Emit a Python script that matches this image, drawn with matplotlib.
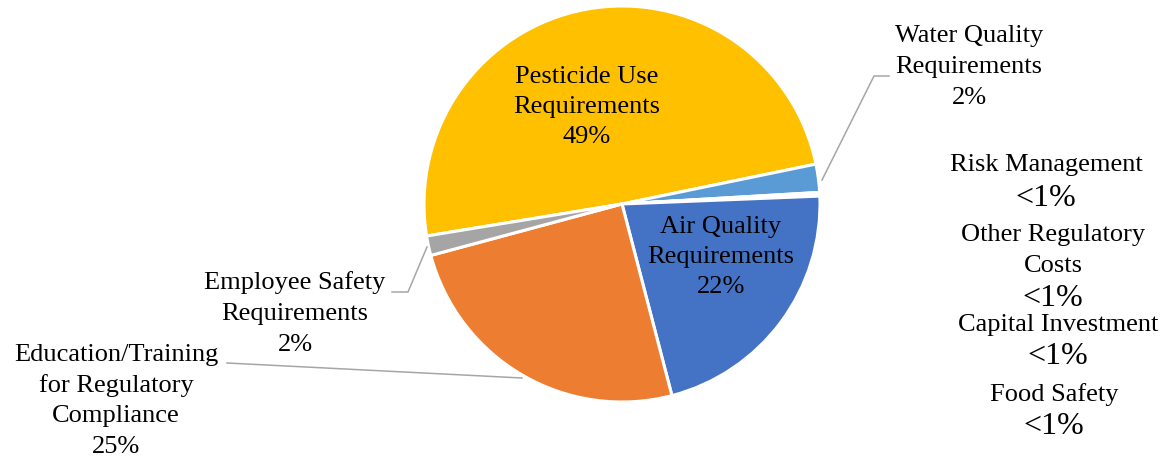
import matplotlib.pyplot as plt

plt.rcParams['font.family'] = ['Liberation Serif', 'DejaVu Serif']

# Share of regulatory cost by category (percent)
categories = ['Pesticide Use Requirements', 'Water Quality Requirements',
              'Risk Management', 'Other Regulatory Costs', 'Capital Investment',
              'Food Safety', 'Air Quality Requirements',
              'Education/Training for Regulatory Compliance',
              'Employee Safety Requirements']
shares = [49.4, 2.3, 0.1, 0.1, 0.05, 0.05, 21.6, 24.9, 1.6]
colors = ['#FFC000', '#5B9BD5', '#264478', '#9E480E', '#636363',
          '#997300', '#4472C4', '#ED7D31', '#A5A5A5']

# label lines for each slice (the value line is added from the shares)
label_lines = {
    'Pesticide Use Requirements': ['Pesticide Use', 'Requirements'],
    'Water Quality Requirements': ['Water Quality', 'Requirements'],
    'Risk Management': ['Risk Management'],
    'Other Regulatory Costs': ['Other Regulatory', 'Costs'],
    'Capital Investment': ['Capital Investment'],
    'Food Safety': ['Food Safety'],
    'Air Quality Requirements': ['Air Quality', 'Requirements'],
    'Education/Training for Regulatory Compliance':
        ['Education/Training', 'for Regulatory', 'Compliance'],
    'Employee Safety Requirements': ['Employee Safety', 'Requirements'],
}

W, H = 1165, 459
fig = plt.figure(figsize=(W / 100, H / 100), dpi=100)
ax = fig.add_axes([0, 0, 1, 1])

cx, cy, r = 622, H - 204, 198
ax.pie(shares, colors=colors, startangle=189.3, counterclock=False,
       center=(cx, cy), radius=r,
       wedgeprops=dict(edgecolor='white', linewidth=2.2))

ax.set_xlim(0, W)
ax.set_ylim(0, H)
ax.set_aspect('equal')
ax.axis('off')


def pct_text(v):
    return '<1%' if v < 1 else f'{round(v)}%'


# label placement: x centre and y of each line, measured from the top
label_pos = {
    'Pesticide Use Requirements': (587, [77, 107, 137]),
    'Water Quality Requirements': (969, [36, 67, 98]),
    'Risk Management': (1046, [165, 198]),
    'Other Regulatory Costs': (1053, [235, 266, 298]),
    'Capital Investment': (1058, [325, 357]),
    'Food Safety': (1054, [395, 427]),
    'Air Quality Requirements': (721, [227, 257, 287]),
    'Education/Training for Regulatory Compliance': (116, [355, 386, 416, 447]),
    'Employee Safety Requirements': (295, [283, 314, 345]),
}

for name, v in zip(categories, shares):
    x, ys = label_pos[name]
    lines = label_lines[name] + [pct_text(v)]
    for i, (line, y) in enumerate(zip(lines, ys)):
        size = 23 if (v < 1 and i == len(lines) - 1) else 19
        ax.text(x, H - y, line, ha='center', va='center', fontsize=size,
                color='black')

# leader lines for the labels outside the pie
leaders = [
    ([822, 874, 889], [180, 76, 76]),
    ([427, 408, 392], [247, 292, 292]),
    ([522, 227], [378, 363]),
]
for xs, ys in leaders:
    ax.plot(xs, [H - y for y in ys], color='#A6A6A6', lw=1.1)

fig.savefig('out.png', dpi=100, facecolor='white')
